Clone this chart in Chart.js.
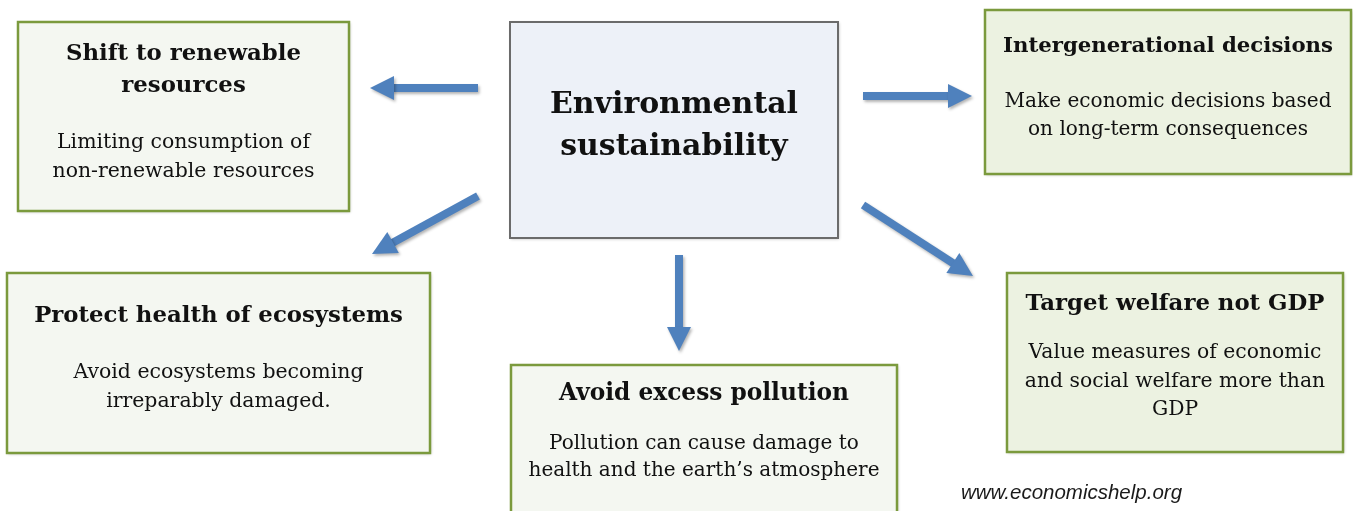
<!DOCTYPE html>
<html>
<head>
<meta charset="utf-8">
<script src="https://cdn.jsdelivr.net/npm/chart.js@4.4.1/dist/chart.umd.min.js"></script>
<style>
  html, body { margin: 0; padding: 0; background: #fff; }
  canvas { display: block; }
</style>
</head>
<body>
<canvas id="diagram" width="1353" height="511"></canvas>
<script>
// box texts, index 0 is the centre box
const titles = [
    ["Environmental", "sustainability"],
    ["Shift to renewable", "resources"],
    ["Intergenerational decisions"],
    ["Protect health of ecosystems"],
    ["Avoid excess pollution"],
    ["Target welfare not GDP"]
];
const notes = [
    [],
    ["Limiting consumption of", "non-renewable resources"],
    ["Make economic decisions based", "on long-term consequences"],
    ["Avoid ecosystems becoming", "irreparably damaged."],
    ["Pollution can cause damage to", "health and the earth\u2019s atmosphere"],
    ["Value measures of economic", "and social welfare more than", "GDP"]
];
// each arrow goes from the centre box to one of these boxes
const links = [1, 3, 2, 5, 4];
const credit = "www.economicshelp.org";

// layout (pixel units of the 1353x511 frame)
// tW / nW = wanted width of the first title / note line, font size is fitted to it
const boxes = [
    { x0: 510, y0: 22, x1: 838, y1: 238, fill: "#edf1f8", stroke: "#6b6b6b", tW: 248, tBase: [113, 155], nW: 0, nBase: [] },
    { x0: 18, y0: 22, x1: 349, y1: 211, fill: "#f4f7f1", stroke: "#7b9a3d", tW: 235, tBase: [60, 92], nW: 253, nBase: [148, 177] },
    { x0: 985, y0: 10, x1: 1351, y1: 174, fill: "#ecf2e1", stroke: "#7b9a3d", tW: 330, tBase: [52], nW: 327, nBase: [107, 135] },
    { x0: 7, y0: 273, x1: 430, y1: 453, fill: "#f4f7f1", stroke: "#7b9a3d", tW: 369, tBase: [322], nW: 290, nBase: [378, 407] },
    { x0: 511, y0: 365, x1: 897, y1: 530, fill: "#f4f7f1", stroke: "#7b9a3d", tW: 290, tBase: [400], nW: 310, nBase: [449, 476] },
    { x0: 1007, y0: 273, x1: 1343, y1: 452, fill: "#ecf2e1", stroke: "#7b9a3d", tW: 299, tBase: [310], nW: 293, nBase: [358, 387, 415] }
];
const arrows = [
    [478, 88, 370, 88],
    [478, 196, 372, 254],
    [863, 96, 972, 96],
    [863, 205, 973, 276],
    [679, 255, 679, 351]
];
const headLen = 24, headHalf = 12;
const arrowColour = "#4f81bd";
const serif = "'DejaVu Serif', 'Liberation Serif', serif";

// shafts stop where the head starts
const shaftSets = arrows.map((a, i) => {
    const dx = a[2] - a[0], dy = a[3] - a[1];
    const len = Math.hypot(dx, dy);
    return {
        label: titles[links[i]].join(" "),
        data: [
            { x: a[0], y: a[1] },
            { x: a[2] - dx / len * (headLen - 2), y: a[3] - dy / len * (headLen - 2) }
        ],
        showLine: true,
        borderColor: arrowColour,
        borderWidth: 8,
        pointRadius: 0,
        borderCapStyle: "butt"
    };
});

function fitFont(ctx, style, text, width) {
    ctx.font = style + "100px " + serif;
    const size = 100 * width / ctx.measureText(text).width;
    ctx.font = style + size.toFixed(2) + "px " + serif;
}

const boxPlugin = {
    id: "boxes",
    beforeDatasetsDraw(chart) {
        const { ctx, scales: { x, y } } = chart;
        ctx.save();
        boxes.forEach((b, i) => {
            const px0 = x.getPixelForValue(b.x0), px1 = x.getPixelForValue(b.x1);
            const py0 = y.getPixelForValue(b.y0), py1 = y.getPixelForValue(b.y1);
            ctx.shadowColor = "rgba(0,0,0,0.25)";
            ctx.shadowBlur = 3;
            ctx.shadowOffsetX = 1;
            ctx.shadowOffsetY = 1;
            ctx.fillStyle = b.fill;
            ctx.fillRect(px0, py0, px1 - px0, py1 - py0);
            ctx.shadowColor = "transparent";
            ctx.lineWidth = i === 0 ? 2 : 2.5;
            ctx.strokeStyle = b.stroke;
            ctx.strokeRect(px0, py0, px1 - px0, py1 - py0);

            const cx = (px0 + px1) / 2;
            ctx.fillStyle = "#111";
            ctx.textAlign = "center";
            ctx.textBaseline = "alphabetic";
            fitFont(ctx, "bold ", titles[i][0], b.tW);
            titles[i].forEach((t, k) => ctx.fillText(t, cx, y.getPixelForValue(b.tBase[k])));
            if (notes[i].length) {
                fitFont(ctx, "", notes[i][0], b.nW);
                notes[i].forEach((t, k) => ctx.fillText(t, cx, y.getPixelForValue(b.nBase[k])));
            }
        });
        ctx.font = "italic 20.5px 'Liberation Sans', 'DejaVu Sans', sans-serif";
        ctx.fillStyle = "#1a1a1a";
        ctx.textAlign = "left";
        ctx.fillText(credit, x.getPixelForValue(961), y.getPixelForValue(499));
        ctx.restore();
    },
    beforeDatasetDraw(chart) {
        const ctx = chart.ctx;
        ctx.save();
        ctx.shadowColor = "rgba(0,0,0,0.3)";
        ctx.shadowBlur = 3;
        ctx.shadowOffsetX = 1.5;
        ctx.shadowOffsetY = 2;
    },
    afterDatasetDraw(chart) {
        chart.ctx.restore();
    },
    afterDatasetsDraw(chart) {
        const { ctx, scales: { x, y } } = chart;
        ctx.save();
        ctx.shadowColor = "rgba(0,0,0,0.3)";
        ctx.shadowBlur = 3;
        ctx.shadowOffsetX = 1.5;
        ctx.shadowOffsetY = 2;
        ctx.fillStyle = arrowColour;
        arrows.forEach(a => {
            const tx = x.getPixelForValue(a[2]), ty = y.getPixelForValue(a[3]);
            const sx = x.getPixelForValue(a[0]), sy = y.getPixelForValue(a[1]);
            const len = Math.hypot(tx - sx, ty - sy);
            const ux = (tx - sx) / len, uy = (ty - sy) / len;
            const bx = tx - ux * headLen, by = ty - uy * headLen;
            ctx.beginPath();
            ctx.moveTo(tx, ty);
            ctx.lineTo(bx - uy * headHalf, by + ux * headHalf);
            ctx.lineTo(bx + uy * headHalf, by - ux * headHalf);
            ctx.closePath();
            ctx.fill();
        });
        ctx.restore();
    }
};

new Chart(document.getElementById("diagram"), {
    type: "scatter",
    data: { datasets: shaftSets },
    options: {
        responsive: false,
        animation: false,
        devicePixelRatio: 1,
        layout: { padding: 0 },
        scales: {
            x: { type: "linear", min: 0, max: 1353, display: false },
            y: { type: "linear", min: 0, max: 511, reverse: true, display: false }
        },
        plugins: { legend: { display: false }, tooltip: { enabled: false } }
    },
    plugins: [boxPlugin]
});
</script>
</body>
</html>
